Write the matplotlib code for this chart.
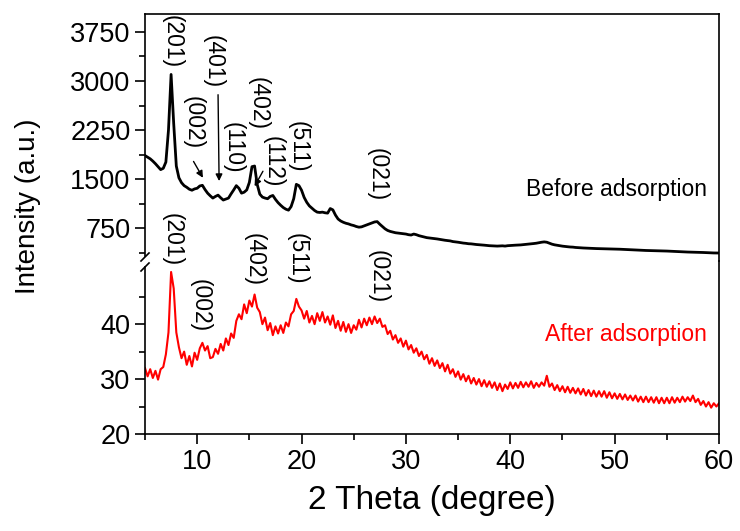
import numpy as np
import matplotlib
matplotlib.use("Agg")
import matplotlib.pyplot as plt
from matplotlib.lines import Line2D

plt.rcParams['font.family'] = ['Liberation Sans', 'DejaVu Sans']

# ---- data: 2-theta grid 5..60 step 0.25 (one row = one degree) ----
before_rows = [
    [1860, 1835, 1810, 1775],  # 5
    [1735, 1690, 1645, 1665],  # 6
    [1760, 2250, 3100, 2350],  # 7
    [1700, 1520, 1445, 1400],  # 8
    [1375, 1345, 1330, 1350],  # 9
    [1360, 1395, 1405, 1340],  # 10
    [1285, 1245, 1210, 1235],  # 11
    [1255, 1215, 1180, 1195],  # 12
    [1210, 1275, 1335, 1400],  # 13
    [1360, 1285, 1300, 1335],  # 14
    [1450, 1690, 1700, 1420],  # 15
    [1270, 1225, 1210, 1200],  # 16
    [1235, 1250, 1190, 1140],  # 17
    [1100, 1065, 1040, 1025],  # 18
    [1080, 1200, 1420, 1400],  # 19
    [1330, 1220, 1145, 1090],  # 20
    [1055, 1020, 995, 990],    # 21
    [995, 985, 980, 1050],     # 22
    [1030, 950, 890, 860],     # 23
    [840, 825, 815, 800],      # 24
    [790, 775, 765, 770],      # 25
    [785, 800, 815, 830],      # 26
    [845, 850, 810, 775],      # 27
    [740, 715, 700, 690],      # 28
    [680, 675, 670, 665],      # 29
    [660, 650, 645, 660],      # 30
    [650, 635, 625, 615],      # 31
    [605, 600, 595, 590],      # 32
    [585, 578, 570, 565],      # 33
    [560, 555, 545, 540],      # 34
    [535, 528, 522, 518],      # 35
    [512, 510, 505, 500],      # 36
    [497, 493, 490, 486],      # 37
    [482, 480, 478, 476],      # 38
    [478, 480, 476, 482],      # 39
    [485, 488, 490, 492],      # 40
    [494, 498, 502, 506],      # 41
    [510, 515, 520, 528],      # 42
    [535, 540, 535, 520],      # 43
    [505, 495, 488, 480],      # 44
    [475, 470, 466, 462],      # 45
    [460, 455, 452, 450],      # 46
    [447, 445, 443, 441],      # 47
    [440, 438, 437, 435],      # 48
    [434, 433, 432, 432],      # 49
    [431, 430, 428, 426],      # 50
    [424, 422, 420, 418],      # 51
    [416, 414, 412, 410],      # 52
    [409, 408, 406, 405],      # 53
    [404, 403, 402, 401],      # 54
    [400, 398, 396, 394],      # 55
    [392, 390, 388, 386],      # 56
    [385, 384, 383, 382],      # 57
    [380, 379, 378, 376],      # 58
    [374, 372, 371, 370],      # 59
    [370],                     # 60
]

after_rows = [
    [32.0, 30.5, 31.8, 30.2],  # 5
    [31.5, 29.9, 31.8, 32.2],  # 6
    [34.5, 38.5, 49.5, 46.5],  # 7
    [38.5, 35.8, 33.8, 35.0],  # 8
    [32.6, 34.2, 32.3, 34.8],  # 9
    [33.5, 35.6, 36.6, 35.2],  # 10
    [36.0, 33.8, 34.0, 35.5],  # 11
    [34.6, 36.4, 35.2, 37.4],  # 12
    [36.2, 38.3, 37.5, 40.6],  # 13
    [41.8, 40.9, 43.6, 42.0],  # 14
    [44.3, 43.2, 45.4, 43.0],  # 15
    [42.2, 40.0, 41.2, 38.9],  # 16
    [40.2, 38.0, 39.6, 38.3],  # 17
    [39.8, 38.4, 40.3, 39.6],  # 18
    [41.8, 42.4, 44.6, 43.2],  # 19
    [42.5, 41.0, 42.4, 40.3],  # 20
    [41.5, 40.0, 42.0, 40.6],  # 21
    [42.2, 40.3, 41.4, 39.9],  # 22
    [41.6, 39.3, 40.6, 38.8],  # 23
    [40.4, 38.6, 40.0, 38.4],  # 24
    [39.8, 39.0, 40.8, 39.4],  # 25
    [41.0, 39.8, 41.2, 40.0],  # 26
    [41.4, 40.2, 41.0, 39.5],  # 27
    [39.8, 38.2, 38.8, 37.2],  # 28
    [38.0, 36.6, 37.4, 35.9],  # 29
    [37.0, 35.4, 36.2, 34.8],  # 30
    [35.6, 34.2, 35.0, 33.6],  # 31
    [34.4, 32.8, 33.8, 32.4],  # 32
    [33.4, 32.0, 32.9, 31.4],  # 33
    [32.6, 31.0, 31.8, 30.4],  # 34
    [31.4, 29.9, 30.9, 29.6],  # 35
    [30.6, 29.2, 30.2, 29.0],  # 36
    [30.0, 28.7, 29.8, 28.6],  # 37
    [29.6, 28.4, 29.4, 28.0],  # 38
    [29.2, 27.8, 29.0, 28.2],  # 39
    [29.4, 28.3, 29.3, 28.4],  # 40
    [29.5, 28.5, 29.4, 28.6],  # 41
    [29.6, 28.4, 29.3, 28.6],  # 42
    [29.4, 28.8, 30.6, 28.6],  # 43
    [29.2, 28.0, 28.9, 27.8],  # 44
    [28.7, 27.6, 28.6, 27.5],  # 45
    [28.4, 27.4, 28.3, 27.2],  # 46
    [28.2, 27.0, 28.0, 26.9],  # 47
    [27.9, 26.8, 27.8, 26.8],  # 48
    [27.8, 26.6, 27.6, 26.5],  # 49
    [27.4, 26.4, 27.3, 26.3],  # 50
    [27.2, 26.2, 27.0, 26.1],  # 51
    [27.0, 25.9, 26.8, 25.8],  # 52
    [26.8, 25.8, 26.7, 25.7],  # 53
    [26.7, 25.6, 26.6, 25.6],  # 54
    [26.6, 25.6, 26.7, 25.7],  # 55
    [26.6, 25.8, 26.8, 25.9],  # 56
    [26.7, 26.0, 27.0, 25.8],  # 57
    [26.4, 25.3, 26.0, 25.0],  # 58
    [25.8, 24.8, 25.6, 25.0],  # 59
    [25.6],                    # 60
]

before_vals = np.array([v for r in before_rows for v in r], dtype=float)
after_vals = np.array([v for r in after_rows for v in r], dtype=float)
theta_before = np.linspace(5, 60, len(before_vals))
theta_after = np.linspace(5, 60, len(after_vals))

upper_ticks = [750, 1500, 2250, 3000, 3750]
lower_ticks = [20, 30, 40]
x_ticks = [10, 20, 30, 40, 50, 60]

# peak labels: (label, 2theta, top value)
before_labels = [("(201)", 7.6, 4010), ("(002)", 9.6, 2770), ("(401)", 11.5, 3710),
                 ("(110)", 13.4, 2370), ("(402)", 15.8, 3060), ("(112)", 17.3, 2160),
                 ("(511)", 19.7, 2390), ("(021)", 27.2, 1980)]
after_labels = [("(201)", 7.6, 980), ("(002)", 10.3, 48.3), ("(402)", 15.5, 680),
                ("(511)", 19.6, 680), ("(021)", 27.3, 420)]
# arrows: (start x, start y, end x, end y) in data units of upper axis
arrows = [(9.65, 1770, 10.55, 1520), (12.0, 2790, 12.1, 1470), (16.3, 1620, 15.5, 1390)]

# ---- figure ----
W, H = 740, 531
fig = plt.figure(figsize=(W / 100, H / 100), dpi=100)
left, right = 145 / W, 719 / W
top_px, mid_px, bot_px = 14, 261, 434
ax_l = fig.add_axes([left, 1 - bot_px / H, right - left, (bot_px - mid_px) / H])
ax_u = fig.add_axes([left, 1 - mid_px / H, right - left, (mid_px - top_px) / H])
ax_u.set_facecolor('none')
ax_l.set_facecolor('none')

ax_u.plot(theta_before, before_vals, color='black', lw=2.0)
ax_l.plot(theta_after, after_vals, color='red', lw=1.5)

ax_u.set_xlim(5, 60)
ax_l.set_xlim(5, 60)
ax_u.set_ylim(248, 4024)
ax_l.set_ylim(20, 51.5)

for ax in (ax_u, ax_l):
    for s in ax.spines.values():
        s.set_linewidth(1.2)
    ax.tick_params(which='both', direction='out', width=1.2, labelsize=19.5, colors='black')
    ax.tick_params(which='major', length=7)
    ax.tick_params(which='minor', length=4)

ax_u.spines['bottom'].set_visible(False)
ax_l.spines['top'].set_visible(False)
ax_u.spines['left'].set_bounds(324, 4024)
ax_l.spines['left'].set_bounds(20, 50.4)

ax_u.set_yticks(upper_ticks)
ax_u.set_yticks([375, 1125, 1875, 2625, 3375], minor=True)
ax_u.tick_params(axis='x', which='both', bottom=False, labelbottom=False)
ax_l.set_yticks(lower_ticks)
ax_l.set_yticks([25, 35, 45], minor=True)
ax_l.set_xticks(x_ticks)
ax_l.set_xticks([5, 15, 25, 35, 45, 55], minor=True)

# break marks on left spine
for yb in (258, 268):
    fig.add_artist(Line2D([(141) / W, (149) / W], [1 - (yb + 3) / H, 1 - (yb - 5) / H],
                          color='black', lw=1.2))

fs_ann = 16.5
for lab, x, y in before_labels:
    ax_u.text(x, y, lab, rotation=270, ha='center', va='top', fontsize=fs_ann)
for lab, x, y in after_labels:
    if y > 60:
        ax_u.text(x, y, lab, rotation=270, ha='center', va='top', fontsize=fs_ann)
    else:
        ax_l.text(x, y, lab, rotation=270, ha='center', va='top', fontsize=fs_ann)
for x0, y0, x1, y1 in arrows:
    ax_u.annotate('', xy=(x1, y1), xytext=(x0, y0),
                  arrowprops=dict(arrowstyle='-|>', color='black', lw=1.0,
                                  mutation_scale=10, shrinkA=0, shrinkB=0))

ax_u.text(0.979, 0.29, "Before adsorption", transform=ax_u.transAxes, ha='right',
          va='center', fontsize=16.5, color='black')
ax_l.text(0.979, 0.575, "After adsorption", transform=ax_l.transAxes, ha='right',
          va='center', fontsize=16.5, color='red')

fig.text(28 / W, 1 - 206 / H, "Intensity (a.u.)", rotation=90, ha='center', va='center',
         fontsize=20)
fig.text(432 / W, 1 - 500 / H, "2 Theta (degree)", ha='center', va='center', fontsize=24)

fig.savefig("out.png", dpi=100)
